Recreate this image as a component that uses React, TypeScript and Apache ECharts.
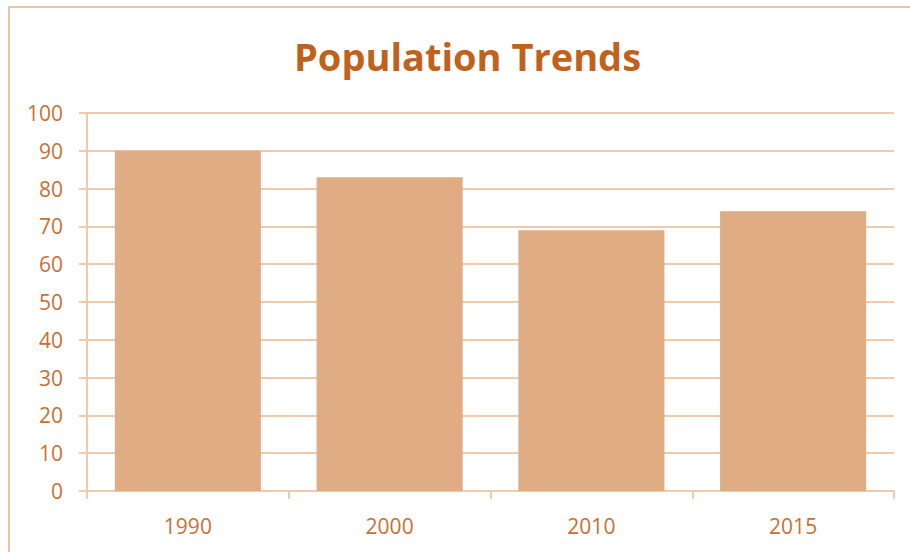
import React, { useEffect, useRef } from "react";
import * as echarts from "echarts";

const categories = ["1990", "2000", "2010", "2015"];
const populationValues = [90, 83, 69, 74];
const yTicks = { min: 0, max: 100, interval: 10 };

export default function App() {
  const ref = useRef<HTMLDivElement>(null);
  useEffect(() => {
    const chart = echarts.init(ref.current!, null, { renderer: "svg" });
    const labelColor = "#CA6F33";
    const lineColor = "#EFCBAD";
    chart.setOption({
      animation: false,
      backgroundColor: "#ffffff",
      title: {
        text: "Population Trends",
        left: 289,
        top: 32,
        textStyle: {
          fontFamily: "Open Sans",
          fontWeight: "bold",
          fontSize: 38,
          color: "#C0621C",
        },
      },
      graphic: [
        {
          type: "rect",
          shape: { x: 9, y: 7, width: 1200, height: 1200 },
          style: { fill: "none", stroke: "#EDC4A3", lineWidth: 2 },
          silent: true,
        },
      ],
      grid: { left: 87, right: 16, top: 113, bottom: 61, containLabel: false },
      xAxis: {
        type: "category",
        data: categories,
        axisLine: { show: true, lineStyle: { color: lineColor, width: 2 } },
        axisTick: { show: true, length: 8, lineStyle: { color: lineColor, width: 2 } },
        axisLabel: {
          margin: 24,
          fontFamily: "Open Sans",
          fontSize: 21,
          color: labelColor,
        },
      },
      yAxis: {
        type: "value",
        min: yTicks.min,
        max: yTicks.max,
        interval: yTicks.interval,
        axisLine: { show: true, lineStyle: { color: lineColor, width: 2 } },
        axisTick: { show: true, length: 8, lineStyle: { color: lineColor, width: 2 } },
        splitLine: { show: true, lineStyle: { color: lineColor, width: 2 } },
        axisLabel: {
          margin: 24,
          fontFamily: "Open Sans",
          fontSize: 21,
          color: labelColor,
        },
      },
      series: [
        {
          type: "bar",
          data: populationValues,
          barCategoryGap: "27.6%",
          itemStyle: { color: "#DFAC84" },
        },
      ],
    });
    return () => chart.dispose();
  }, []);
  return (
    <div
      ref={ref}
      style={{ position: "fixed", left: 0, top: 0, width: 910, height: 552 }}
    />
  );
}
